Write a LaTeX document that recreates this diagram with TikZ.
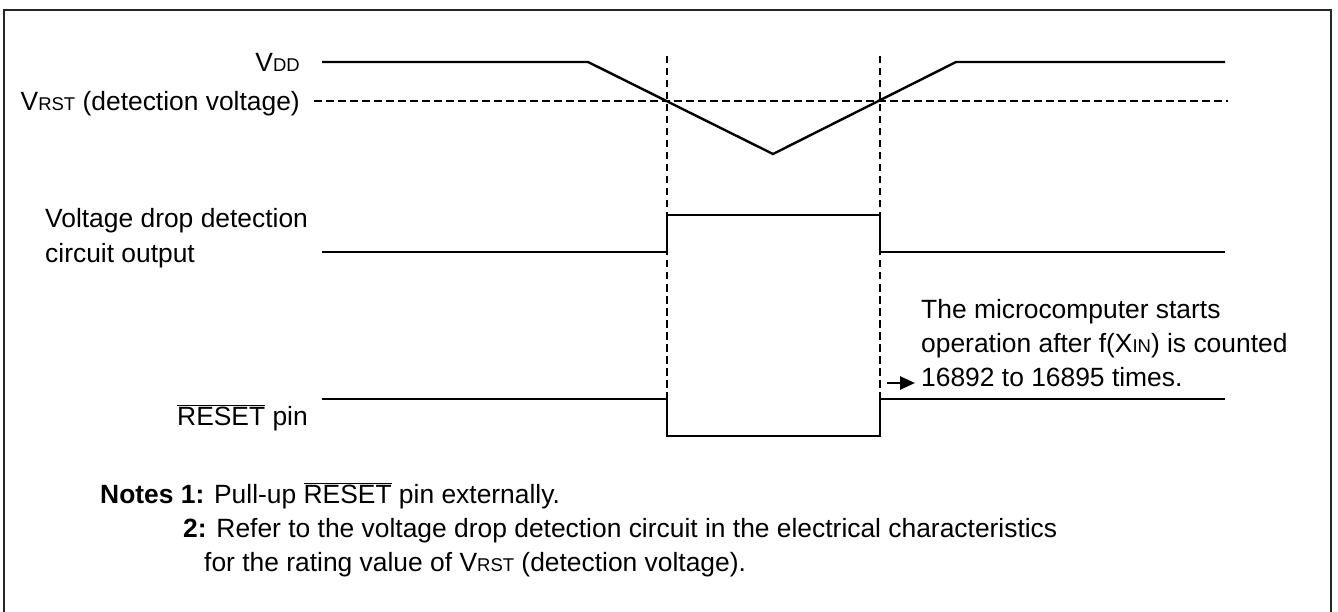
\documentclass[tikz,border=0pt]{standalone}
\usepackage{fontspec}
\setmainfont{Liberation Sans}
\usetikzlibrary{arrows.meta}
\newcommand{\sm}[1]{{\fontsize{18.5}{18.5}\selectfont #1}}
\newcommand{\rst}{$\overline{\mbox{RESET}}$}
\begin{document}
\begin{tikzpicture}[x=1pt,y=-1pt,
  wave/.style={line width=2.4pt,black},
  dsh/.style={line width=2pt,black,dash pattern=on 7.5pt off 4.5pt},
  lbl/.style={font=\fontsize{26.4}{35}\selectfont,inner sep=0pt},
  note/.style={font=\fontsize{26.4}{34}\selectfont,inner sep=0pt,anchor=base west}]
\useasboundingbox (0,0) rectangle (1338,612);
\draw[line width=2.8pt,black!85] (4,612) -- (4,10) -- (1331,10) -- (1331,612);
% named time points
\coordinate (t1top) at (667,56);
\coordinate (t2top) at (880,56);
\coordinate (t1bot) at (667,399);
\coordinate (t2bot) at (880,399);
% VRST line
\draw[dsh] (314,101) -- (1228,101);
% vertical dashed
\draw[dsh] (t1top) -- (t1bot);
\draw[dsh] (t2top) -- (t2bot);
% VDD
\draw[wave] (322,62) -- (588,62) -- (773,154) -- (956,62) -- (1225,62);
% detection output
\draw[wave] (322,252) -- (667,252) -- (667,215) -- (880,215) -- (880,252) -- (1225,252);
% RESET
\draw[wave] (322,399) -- (667,399) -- (667,436) -- (880,436) -- (880,399) -- (1225,399);
% labels
\node[lbl,anchor=base east] (vdd) at (300,71.5) {V\sm{DD}};
\node[lbl,anchor=base east] (vrst) at (300,110.5) {V\sm{RST} (detection voltage)};
\node[lbl,anchor=base west] (vdo1) at (45,228) {Voltage drop detection};
\node[lbl,anchor=base west] (vdo2) at (45,263) {circuit output};
\node[lbl,anchor=base east] (rp) at (308,425) {\rst{} pin};
\node[lbl,anchor=base west] (mc1) at (921,318) {The microcomputer starts};
\node[lbl,anchor=base west] (mc2) at (921,352) {operation after f(X\sm{IN}) is counted};
\node[lbl,anchor=base west] (mc3) at (921,386) {16892 to 16895 times.};
\coordinate (as) at (887,383);
\draw[line width=2.6pt,-{Triangle[length=15pt,width=13pt]}] (as) -- ([xshift=-6pt]mc3.west |- as);
% notes
\node[note] (n1) at (100,503) {\textbf{Notes 1:} Pull-up \rst{} pin externally.};
\node[note] (n2) at (183,537) {\textbf{2:} Refer to the voltage drop detection circuit in the electrical characteristics};
\node[note] (n3) at (204,571) {for the rating value of V\sm{RST} (detection voltage).};
\end{tikzpicture}
\end{document}
